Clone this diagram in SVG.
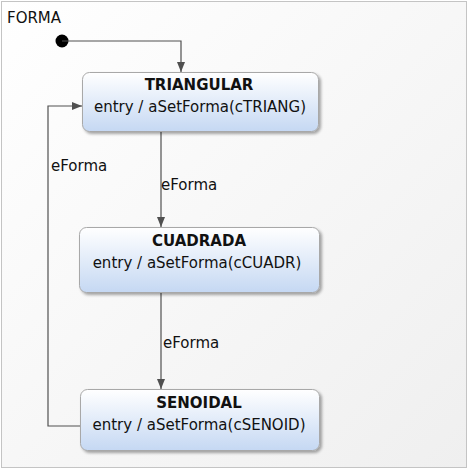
<svg xmlns="http://www.w3.org/2000/svg" width="468" height="469" viewBox="0 0 468 469">
<defs>
<linearGradient id="bg" x1="0" y1="0" x2="1" y2="1">
<stop offset="0" stop-color="#ffffff"/>
<stop offset="1" stop-color="#efefef"/>
</linearGradient>
<linearGradient id="node" x1="0" y1="0" x2="0" y2="1">
<stop offset="0" stop-color="#ffffff"/>
<stop offset="1" stop-color="#c5d8f3"/>
</linearGradient>
<filter id="sh" x="-10%" y="-10%" width="125%" height="130%">
<feGaussianBlur in="SourceAlpha" stdDeviation="1.5"/>
<feOffset dx="2" dy="2"/>
<feComponentTransfer><feFuncA type="linear" slope="0.35"/></feComponentTransfer>
<feMerge><feMergeNode/><feMergeNode in="SourceGraphic"/></feMerge>
</filter>
<marker id="arr" viewBox="0 0 10 10" refX="10" refY="5" markerWidth="10" markerHeight="10" markerUnits="userSpaceOnUse" orient="auto">
<path d="M0,1 L10,5 L0,9 z" fill="#505050"/>
</marker>
</defs>
<style>
.box{fill:url(#node);stroke:#a8a8a8;stroke-width:1;filter:url(#sh)}
.t{font-family:"DejaVu Sans",Verdana,sans-serif;font-size:15px;fill:#111}
.b{font-weight:bold;text-anchor:middle}
.c{fill:none;stroke:#505050;stroke-width:1.2;marker-end:url(#arr)}
.l{font-family:"DejaVu Sans",Verdana,sans-serif;font-size:15px;fill:#111}
</style>
<rect x="1.5" y="1.5" width="465" height="466" fill="url(#bg)" stroke="#c4c4c4"/>
<text x="7" y="23" class="t">FORMA</text>
<g id="connectors">
<circle cx="62" cy="41" r="6.5" fill="#000"/>
<path class="c" d="M62,41 H181 V72"/>
<path class="c" d="M161,132 V227"/>
<text x="161" y="190" class="l">eForma</text>
<path class="c" d="M161,293 V389"/>
<text x="163" y="348" class="l">eForma</text>
<path class="c" d="M80,426 H48 V106 H82"/>
<text x="51" y="171" class="l">eForma</text>
</g>
<g id="TRIANGULAR">
<rect class="box" x="82.5" y="72.5" width="236" height="59" rx="7"/>
<text x="199" y="90" class="t b">TRIANGULAR</text>
<text x="200" y="112" class="t" text-anchor="middle">entry / aSetForma(cTRIANG)</text>
</g>
<g id="CUADRADA">
<rect class="box" x="79.5" y="227.5" width="240" height="65" rx="7"/>
<text x="199" y="246" class="t b">CUADRADA</text>
<text x="197" y="268" class="t" text-anchor="middle">entry / aSetForma(cCUADR)</text>
</g>
<g id="SENOIDAL">
<rect class="box" x="80.5" y="389.5" width="239" height="61" rx="7"/>
<text x="199" y="408" class="t b">SENOIDAL</text>
<text x="199" y="430" class="t" text-anchor="middle">entry / aSetForma(cSENOID)</text>
</g>
</svg>
